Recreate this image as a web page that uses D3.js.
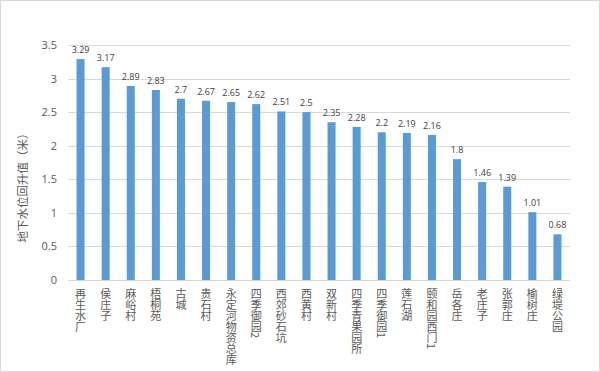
<!DOCTYPE html>
<html>
<head>
<meta charset="utf-8">
<script src="https://cdn.jsdelivr.net/npm/d3@7"></script>
<style>
  body { margin: 0; background: #fff; }
  svg text { font-family: "Noto Sans CJK SC", "Microsoft YaHei", sans-serif; }
</style>
</head>
<body>
<script>
// Define data
const stations = ["再生水厂", "侯庄子", "麻峪村", "梧桐苑", "古城", "贵石村", "永定河物资总库",
    "四季御园2", "西郊砂石坑", "西黄村", "双新村", "四季青果园所", "四季御园1", "莲石湖",
    "颐和园西门1", "岳各庄", "老庄子", "张郭庄", "榆树庄", "绿堤公园"];
const rise = [3.29, 3.17, 2.89, 2.83, 2.7, 2.67, 2.65, 2.62, 2.51, 2.5,
    2.35, 2.28, 2.2, 2.19, 2.16, 1.8, 1.46, 1.39, 1.01, 0.68];
const yTicks = [0, 0.5, 1, 1.5, 2, 2.5, 3, 3.5];

const data = stations.map((s, i) => ({ station: s, value: rise[i] }));

// Set up SVG dimensions and margins
let width = 600,
    height = 372;

let margin = {
    top: 45,
    bottom: 92,
    left: 68,
    right: 30
};

let svg = d3.select('body')
    .append('svg')
    .attr('width', width)
    .attr('height', height);

// Outer frame
svg.append('rect')
    .attr('x', 0.5).attr('y', 0.5)
    .attr('width', width - 1).attr('height', height - 1)
    .attr('fill', '#fff')
    .attr('stroke', '#d9d9d9');

let xScale = d3.scaleBand()
    .domain(stations)
    .range([margin.left, width - margin.right])
    .paddingInner(0.68)
    .paddingOuter(0.34);

let yScale = d3.scaleLinear()
    .domain([0, 3.5])
    .range([height - margin.bottom, margin.top]);

// Gridlines
svg.append('g')
    .selectAll('line')
    .data(yTicks)
    .enter().append('line')
    .attr('x1', margin.left)
    .attr('x2', width - margin.right)
    .attr('y1', d => Math.round(yScale(d)) + 0.5)
    .attr('y2', d => Math.round(yScale(d)) + 0.5)
    .attr('stroke', '#d9d9d9');

// Y axis tick labels
let yAxis = svg.append('g')
    .attr('transform', `translate(${margin.left - 8},0)`)
    .call(d3.axisLeft(yScale).tickValues(yTicks).tickSize(0).tickFormat(d3.format('')));
yAxis.select('.domain').remove();
yAxis.selectAll('text')
    .attr('fill', '#595959')
    .style('font-size', '11px')
    .style('font-family', '"Open Sans", "Noto Sans", sans-serif');

// Bars
svg.selectAll('rect.bar')
    .data(data)
    .enter().append('rect')
    .attr('class', 'bar')
    .attr('x', d => xScale(d.station))
    .attr('y', d => yScale(d.value))
    .attr('width', xScale.bandwidth())
    .attr('height', d => yScale(0) - yScale(d.value))
    .style('fill', '#5b9bd5');

// Value labels
svg.selectAll('text.val')
    .data(data)
    .enter().append('text')
    .attr('class', 'val')
    .attr('x', d => xScale(d.station) + xScale.bandwidth() / 2)
    .attr('y', d => yScale(d.value) - 6)
    .attr('text-anchor', 'middle')
    .attr('fill', '#404040')
    .style('font-size', '9px')
    .style('font-family', '"Open Sans", "Noto Sans", sans-serif')
    .text(d => d.value);

// Category labels (vertical text)
svg.selectAll('text.cat')
    .data(data)
    .enter().append('text')
    .attr('class', 'cat')
    .attr('x', d => xScale(d.station) + xScale.bandwidth() / 2)
    .attr('y', height - margin.bottom + 8)
    .style('writing-mode', 'vertical-rl')
    .style('font-size', '11px')
    .attr('fill', '#595959')
    .text(d => d.station);

// Y axis title
svg.append('text')
    .attr('transform', 'translate(27,185) rotate(-90)')
    .attr('text-anchor', 'middle')
    .attr('fill', '#595959')
    .style('font-size', '11.5px')
    .text('地下水位回升值（米）');
</script>
</body>
</html>
